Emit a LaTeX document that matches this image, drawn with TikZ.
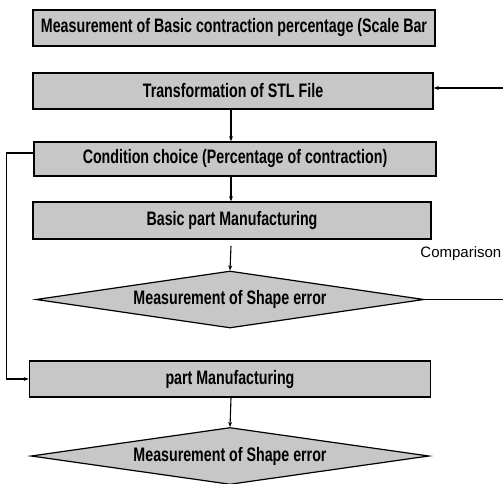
\documentclass[tikz,border=0pt]{standalone}
\usepackage{fontspec}
\setmainfont{Liberation Sans}
\newfontfamily\cf[FakeStretch=0.73]{Liberation Sans}
\usetikzlibrary{shapes.geometric,arrows.meta}
\definecolor{boxgray}{gray}{0.78}
\begin{document}
\begin{tikzpicture}[x=1pt,y=1pt,
  stepbox/.style={draw=black, line width=1.6pt, fill=boxgray, minimum width=400pt,
    minimum height=36pt, inner sep=0pt, font=\cf\bfseries\fontsize{19.5}{20}\selectfont},
  decbox/.style={diamond, draw=black, line width=1.2pt, fill=boxgray, aspect=6.8,
    minimum width=392pt, minimum height=57pt, inner sep=0pt,
    font=\cf\bfseries\fontsize{19.5}{20}\selectfont},
  conn/.style={line width=1.1pt},
  arr/.style={conn, -{Stealth[length=5pt,width=4pt]}}]
\useasboundingbox (0,0) rectangle (503,-484);
\fill[white] (0,0) rectangle (503,-484);
\begin{scope}
\clip (0,0) rectangle (503,-484);
\node[stepbox, minimum width=402pt] (b1) at (234,-28) {Measurement of Basic contraction percentage (Scale Bar};
\node[stepbox] (b2) at (233,-91) {Transformation of STL File};
\node[stepbox, minimum width=402pt, minimum height=34pt] (b3) at (235,-159) {Condition choice (Percentage of contraction)};
\node[stepbox, minimum width=398pt, minimum height=37pt] (b4) at (232,-220.5) {Basic part Manufacturing};
\node[decbox, minimum width=388pt] (d1) at (230,-299.5) {Measurement of Shape error};
\node[stepbox, minimum width=401pt] (b5) at (230,-379) {part Manufacturing};
\node[decbox, minimum width=398pt, minimum height=57pt] (d2) at (230,-456) {Measurement of Shape error};
\coordinate (in1) at (503,-88);
\coordinate (out1) at (503,-299.5);
\node[font=\fontsize{15}{16}\selectfont, anchor=east, inner sep=0pt] (cmp) at (501.5,-254) {Comparison};
\draw[arr] (in1) -- (in1 -| b2.east);
\draw[arr] (b2.south -| 231,0) -- (b3.north -| 231,0);
\draw[arr] (b3.south -| 231,0) -- (b4.north -| 231,0);
\draw[arr] ([yshift=-6pt]b4.south -| 231,0) -- (d1.north);
\draw[conn] (d1.east) -- (out1);
\draw[arr] ([yshift=6pt]b3.west) -- ++(-27,0) |- (b5.west);
\draw[arr] (b5.south -| 231,0) -- (d2.north);
\end{scope}
\end{tikzpicture}
\end{document}
